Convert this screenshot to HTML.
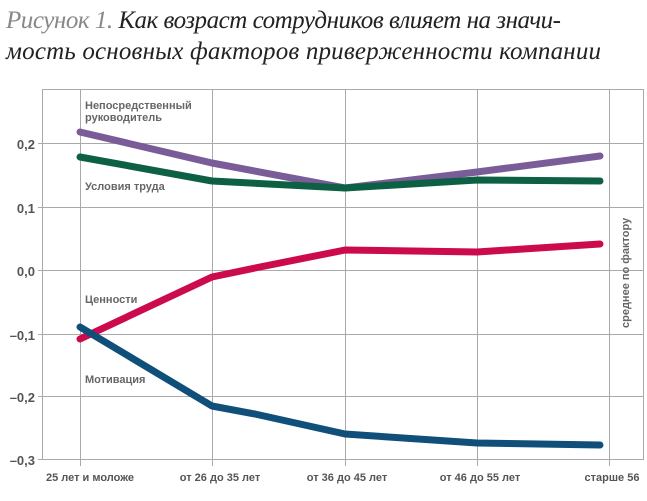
<!DOCTYPE html>
<html><head><meta charset="utf-8"><style>
body{margin:0;background:#fff;}
</style></head><body>
<svg width="647" height="501" xmlns="http://www.w3.org/2000/svg" style="display:block">
<text x="6" y="28" font-family="Liberation Serif, serif" font-style="italic" font-size="25" fill="#222" textLength="555"><tspan fill="#888">Рисунок 1.</tspan> Как возраст сотрудников влияет на значи-</text>
<text x="6" y="59" font-family="Liberation Serif, serif" font-style="italic" font-size="25" fill="#222" textLength="595">мость основных факторов приверженности компании</text>
<g stroke="#aaa" stroke-width="1" fill="none">
<rect x="42.5" y="89.5" width="601" height="370"/>
<line x1="80.5" y1="89" x2="80.5" y2="466"/>
<line x1="212.5" y1="89" x2="212.5" y2="466"/>
<line x1="345.5" y1="89" x2="345.5" y2="466"/>
<line x1="477.5" y1="89" x2="477.5" y2="466"/>
<line x1="609.5" y1="89" x2="609.5" y2="466"/>
<line x1="38" y1="143.5" x2="644" y2="143.5"/>
<line x1="38" y1="207.5" x2="644" y2="207.5"/>
<line x1="38" y1="270.5" x2="644" y2="270.5"/>
<line x1="38" y1="334.5" x2="644" y2="334.5"/>
<line x1="38" y1="396.5" x2="644" y2="396.5"/>
<line x1="38" y1="459.5" x2="42" y2="459.5"/>
</g>
<g font-family="Liberation Sans, sans-serif" font-size="13" font-weight="bold" fill="#555" text-anchor="end">
<text x="35" y="149">0,2</text>
<text x="35" y="213">0,1</text>
<text x="35" y="276">0,0</text>
<text x="35" y="340">–0,1</text>
<text x="35" y="402">–0,2</text>
<text x="35" y="465">–0,3</text>
</g>
<g font-family="Liberation Sans, sans-serif" font-size="11" font-weight="bold" fill="#555" text-anchor="middle">
<text x="90" y="481">25 лет и моложе</text>
<text x="220" y="481">от 26 до 35 лет</text>
<text x="347" y="481">от 36 до 45 лет</text>
<text x="480" y="481">от 46 до 55 лет</text>
<text x="612" y="481">старше 56</text>
</g>
<g font-family="Liberation Sans, sans-serif" font-size="11" font-weight="bold" fill="#666">
<text x="85" y="109">Непосредственный</text>
<text x="85" y="121">руководитель</text>
<text x="85" y="190">Условия труда</text>
<text x="85" y="303">Ценности</text>
<text x="85" y="383">Мотивация</text>
<text transform="translate(629,328) rotate(-90)">среднее по фактору</text>
</g>
<g fill="none" stroke-width="7" stroke-linecap="round" stroke-linejoin="round">
<polyline stroke="#7a5c98" points="80,132 212,163 345,188 477,172 600,156"/>
<polyline stroke="#0d6044" points="80,157 212,181 345,188 477,180 600,181"/>
<polyline stroke="#cc0a4e" points="80,339 212,277 255,268 345,250 477,252 600,244"/>
<polyline stroke="#0f4f7a" points="80,327 212,406 255,414 345,434 477,443 600,445"/>
</g>
</svg>
</body></html>
